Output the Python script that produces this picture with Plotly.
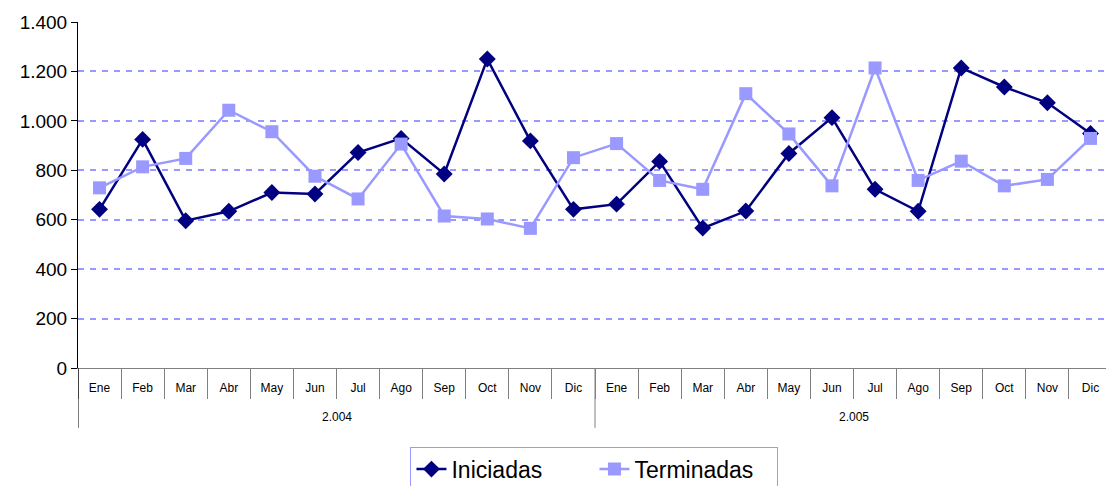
import plotly.graph_objects as go

months = ["Ene", "Feb", "Mar", "Abr", "May", "Jun", "Jul", "Ago", "Sep", "Oct", "Nov", "Dic"] * 2
years = ["2.004", "2.005"]

iniciadas = [642, 925, 596, 634, 710, 704, 872, 929, 785, 1250, 919, 642,
             663, 836, 566, 635, 868, 1013, 723, 634, 1214, 1137, 1073, 949]
terminadas = [729, 814, 848, 1043, 956, 776, 684, 906, 615, 603, 565, 851,
              908, 759, 723, 1110, 947, 737, 1214, 759, 837, 737, 763, 929]

idx = list(range(len(months)))

fig = go.Figure()
fig.add_trace(go.Scatter(
    x=idx, y=iniciadas, name="Iniciadas", mode="lines+markers",
    line=dict(color="#000080", width=2.5),
    marker=dict(symbol="diamond", size=13, color="#000080"),
))
fig.add_trace(go.Scatter(
    x=idx, y=terminadas, name="Terminadas", mode="lines+markers",
    line=dict(color="#9999FF", width=2.5),
    marker=dict(symbol="square", size=13, color="#9999FF"),
))

# year labels centred under each group of 12 months, long dividers between groups
for i, yr in enumerate(years):
    fig.add_annotation(x=i * 12 + 5.5, y=-0.1416, xref="x", yref="paper",
                       text=yr, showarrow=False, font=dict(size=12),
                       yanchor="middle")
    fig.add_shape(type="line", xref="x", yref="paper",
                  x0=i * 12 - 0.5, x1=i * 12 - 0.5, y0=0, y1=-0.173,
                  line=dict(color="black" if i == 0 else "#808080", width=1))

fig.update_layout(
    width=1106, height=486,
    margin=dict(l=78, r=0, t=22, b=118),
    paper_bgcolor="white", plot_bgcolor="white",
    separators=",.",
    font=dict(family="Liberation Sans, Arial", color="black"),
    showlegend=True,
    legend=dict(
        orientation="h", xref="paper", x=0.5024, xanchor="center",
        yref="container", y=0.081, yanchor="top",
        font=dict(size=23), bordercolor="#9999FF", borderwidth=1,
        entrywidth=138, tracegroupgap=0,
    ),
)
fig.update_xaxes(
    range=[-0.5, 23.36], automargin=False,
    tickmode="array", tickvals=idx, ticktext=months,
    ticks="", ticklabelstandoff=9, tickfont=dict(size=12),
    minor=dict(tickmode="linear", tick0=0.5, dtick=1, ticks="outside",
               ticklen=30, tickcolor="#808080", showgrid=False),
    showline=True, linecolor="#808080", linewidth=1,
    showgrid=False, zeroline=False,
)
fig.update_yaxes(
    range=[0, 1400], dtick=200, tickformat=",d", automargin=False,
    showline=True, linecolor="black", linewidth=1,
    ticks="outside", ticklen=6, tickcolor="black",
    tickfont=dict(size=19),
    showgrid=True, gridcolor="#9999FF", gridwidth=2, griddash="6px,6px",
    zeroline=False,
)

fig.write_html("out.html", config={"displayModeBar": False},
               post_script="document.body.style.margin='0';")
